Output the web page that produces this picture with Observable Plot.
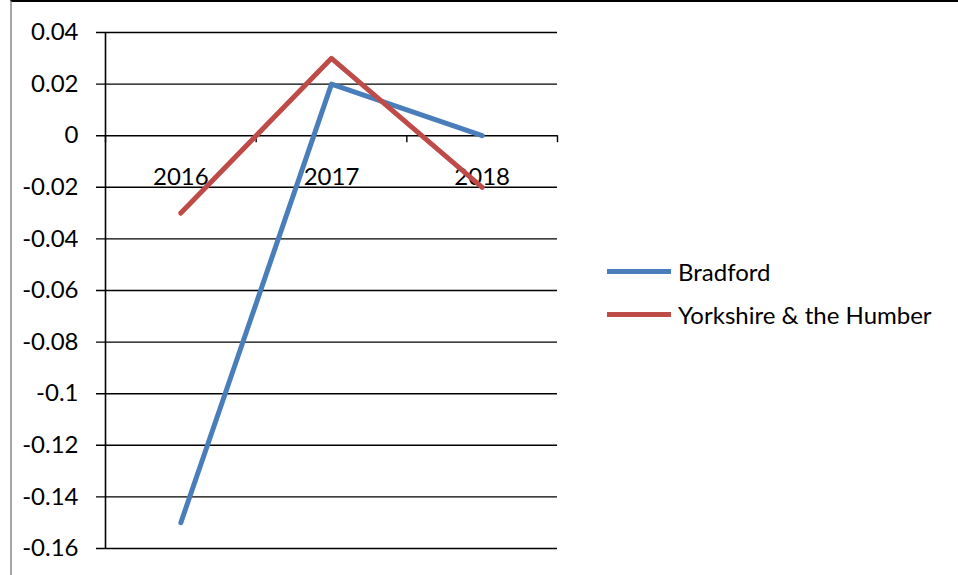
<!DOCTYPE html>
<html>
<head>
<meta charset="utf-8">
<script src="https://cdn.jsdelivr.net/npm/d3@7"></script>
<script src="https://cdn.jsdelivr.net/npm/@observablehq/plot@0.6"></script>
<style>
  html, body { margin: 0; padding: 0; background: #fff; }
  #wrap { position: relative; width: 958px; height: 575px; overflow: hidden; font-family: Lato, "Open Sans", sans-serif; }
  #frame { position: absolute; left: 10px; top: 0; width: 960px; height: 580px; border-left: 2px solid #a6a6a6; border-top: 2px solid #000; box-sizing: border-box; }
  #legend { position: absolute; left: 607px; top: 250px; font-size: 24px; color: #000; }
  .item { display: flex; align-items: center; height: 43px; }
  .swatch { width: 64px; height: 5px; margin-right: 7px; }
  svg { position: absolute; left: 0; top: 0; }
</style>
</head>
<body>
<div id="wrap"><div id="frame"></div><div id="legend"></div></div>
<script>
const years = [2016, 2017, 2018];
const bradford = [-0.15, 0.02, 0];
const yorkshire = [-0.03, 0.03, -0.02];
const seriesNames = ["Bradford", "Yorkshire & the Humber"];
const seriesColors = ["#4a7ebb", "#be4b48"];
const yTicks = [0.04, 0.02, 0, -0.02, -0.04, -0.06, -0.08, -0.1, -0.12, -0.14, -0.16];

const rows = [];
years.forEach((yr, i) => {
  rows.push({year: yr, value: bradford[i], series: seriesNames[0]});
  rows.push({year: yr, value: yorkshire[i], series: seriesNames[1]});
});
const boundaries = [years[0] - 0.5, ...years.map(y => y + 0.5)];

const chart = Plot.plot({
  width: 958,
  height: 575,
  marginLeft: 105,
  marginRight: 401,
  marginTop: 32,
  marginBottom: 27,
  style: {fontFamily: "Lato, 'Open Sans', sans-serif", fontSize: "24px", background: "transparent", color: "#000"},
  x: {type: "linear", domain: [years[0] - 0.5, years[years.length - 1] + 0.5], axis: null},
  y: {domain: [-0.16, 0.04], ticks: yTicks, axis: null},
  color: {domain: seriesNames, range: seriesColors},
  marks: [
    Plot.ruleY(yTicks, {stroke: "#000", strokeWidth: 1.4, insetLeft: -9}),
    Plot.ruleX([boundaries[0]], {stroke: "#000", strokeWidth: 1.6}),
    Plot.ruleX(boundaries, {y1: 0, y2: 0, insetBottom: -7, stroke: "#000", strokeWidth: 1.4}),
    Plot.text(yTicks, {x: boundaries[0], y: d => d, text: d => String(Math.round(d * 100) / 100), textAnchor: "end", dx: -27, fill: "#000"}),
    Plot.text(years, {x: d => d, y: 0, text: d => String(d), dy: 42, fill: "#000"}),
    Plot.line(rows, {x: "year", y: "value", z: "series", stroke: "series", strokeWidth: 5})
  ]
});
document.getElementById("wrap").appendChild(chart);

const legend = document.getElementById("legend");
seriesNames.forEach((n, i) => {
  const it = document.createElement("div");
  it.className = "item";
  it.innerHTML = `<div class="swatch" style="background:${seriesColors[i]}"></div><span>${n}</span>`;
  legend.appendChild(it);
});
</script>
</body>
</html>
